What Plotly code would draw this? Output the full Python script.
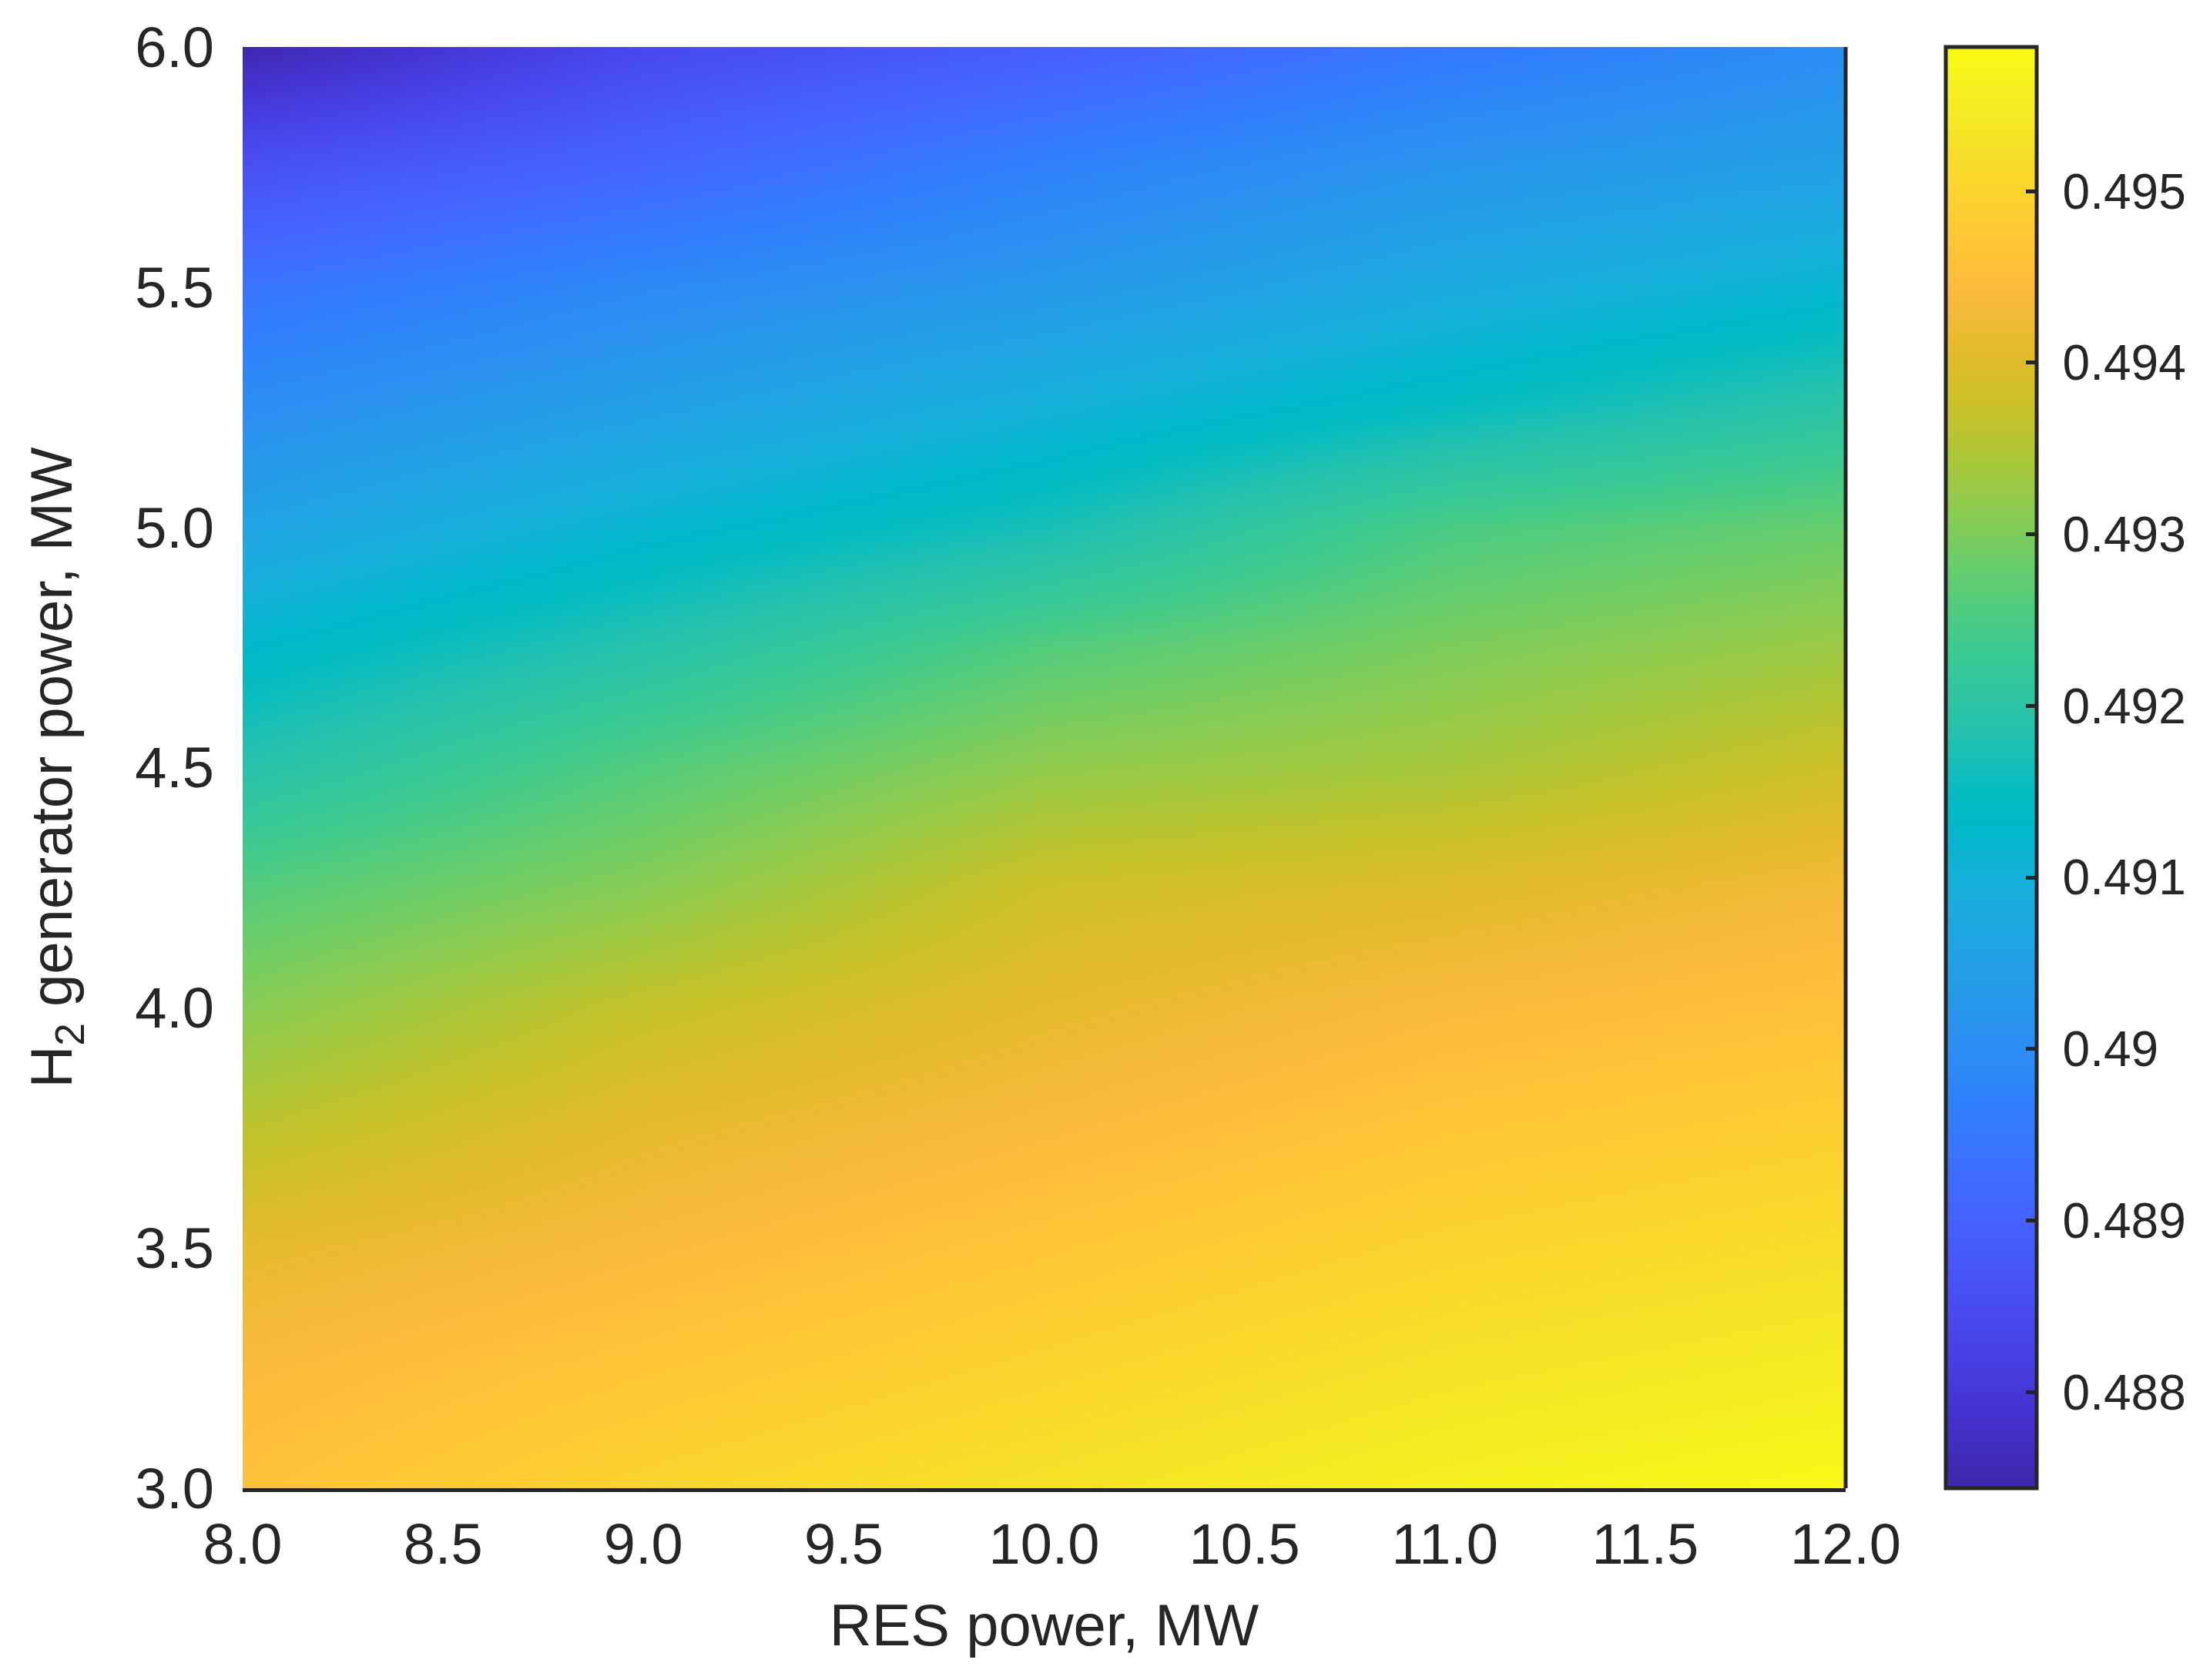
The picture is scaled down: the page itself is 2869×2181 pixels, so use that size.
import plotly.graph_objects as go

# RES power (x), H2 generator power (y), MW
res_power = [8.0, 9.0, 10.0, 11.0, 12.0]
h2_power = [3.0, 3.25, 3.5, 3.75, 4.0, 4.25, 4.5, 4.75, 5.0, 5.25, 5.5, 5.75, 6.0]

# one row per h2_power value, one column per res_power value
z_values = [
    [0.4946, 0.4950, 0.4953, 0.4956, 0.4958],
    [0.4944, 0.4947, 0.4950, 0.4953, 0.4955],
    [0.4941, 0.4944, 0.4947, 0.4950, 0.4952],
    [0.4936, 0.4941, 0.4944, 0.4947, 0.4949],
    [0.4931, 0.4937, 0.4941, 0.4944, 0.4946],
    [0.4926, 0.4931, 0.4938, 0.4940, 0.4943],
    [0.4919, 0.4926, 0.4932, 0.4934, 0.4938],
    [0.4913, 0.4919, 0.4926, 0.4930, 0.4933],
    [0.4906, 0.4912, 0.4917, 0.4925, 0.4928],
    [0.4900, 0.4905, 0.4910, 0.4915, 0.4920],
    [0.4894, 0.4899, 0.4903, 0.4908, 0.4912],
    [0.4886, 0.4891, 0.4897, 0.4902, 0.4905],
    [0.4875, 0.4884, 0.4889, 0.4895, 0.4900],
]

z_min, z_max = 0.48744, 0.49584
cbar_ticks = [0.488, 0.489, 0.490, 0.491, 0.492, 0.493, 0.494, 0.495]
cbar_text = ["0.488", "0.489", "0.49", "0.491", "0.492", "0.493", "0.494", "0.495"]
x_ticks = [8.0, 8.5, 9.0, 9.5, 10.0, 10.5, 11.0, 11.5, 12.0]
y_ticks = [3.0, 3.5, 4.0, 4.5, 5.0, 5.5, 6.0]

# MATLAB parula (64 steps)
PARULA = [
    (0.2422, 0.1504, 0.6603), (0.2504, 0.1650, 0.7076), (0.2578, 0.1818, 0.7511),
    (0.2647, 0.1978, 0.7952), (0.2706, 0.2147, 0.8364), (0.2751, 0.2342, 0.8710),
    (0.2783, 0.2559, 0.8991), (0.2803, 0.2782, 0.9221), (0.2813, 0.3006, 0.9414),
    (0.2810, 0.3228, 0.9579), (0.2795, 0.3447, 0.9717), (0.2760, 0.3667, 0.9829),
    (0.2699, 0.3892, 0.9906), (0.2602, 0.4123, 0.9952), (0.2440, 0.4358, 0.9988),
    (0.2206, 0.4603, 0.9973), (0.1963, 0.4847, 0.9892), (0.1834, 0.5074, 0.9798),
    (0.1786, 0.5289, 0.9682), (0.1764, 0.5499, 0.9520), (0.1687, 0.5703, 0.9359),
    (0.1540, 0.5902, 0.9218), (0.1460, 0.6091, 0.9079), (0.1380, 0.6276, 0.8973),
    (0.1248, 0.6459, 0.8883), (0.1113, 0.6635, 0.8763), (0.0952, 0.6798, 0.8598),
    (0.0689, 0.6948, 0.8394), (0.0297, 0.7082, 0.8163), (0.0036, 0.7203, 0.7917),
    (0.0067, 0.7312, 0.7660), (0.0433, 0.7411, 0.7394), (0.0964, 0.7500, 0.7120),
    (0.1408, 0.7584, 0.6842), (0.1717, 0.7670, 0.6554), (0.1938, 0.7758, 0.6251),
    (0.2161, 0.7843, 0.5923), (0.2470, 0.7918, 0.5567), (0.2906, 0.7973, 0.5188),
    (0.3406, 0.8008, 0.4789), (0.3909, 0.8029, 0.4354), (0.4456, 0.8024, 0.3909),
    (0.5044, 0.7993, 0.3480), (0.5616, 0.7942, 0.3045), (0.6174, 0.7876, 0.2612),
    (0.6720, 0.7793, 0.2227), (0.7242, 0.7698, 0.1910), (0.7738, 0.7598, 0.1646),
    (0.8203, 0.7498, 0.1535), (0.8634, 0.7406, 0.1596), (0.9035, 0.7330, 0.1774),
    (0.9393, 0.7288, 0.2100), (0.9728, 0.7298, 0.2394), (0.9956, 0.7434, 0.2371),
    (0.9970, 0.7659, 0.2199), (0.9952, 0.7893, 0.2028), (0.9892, 0.8136, 0.1885),
    (0.9786, 0.8386, 0.1766), (0.9676, 0.8639, 0.1643), (0.9610, 0.8890, 0.1537),
    (0.9597, 0.9135, 0.1423), (0.9628, 0.9373, 0.1265), (0.9691, 0.9606, 0.1064),
    (0.9769, 0.9839, 0.0805),
]
parula = [
    [i / (len(PARULA) - 1), "rgb(%d,%d,%d)" % tuple(round(c * 255) for c in rgb)]
    for i, rgb in enumerate(PARULA)
]

TXT = "#262626"
FONT = "Liberation Sans, Arial, sans-serif"

fig = go.Figure()
fig.add_trace(go.Heatmap(
    x=res_power,
    y=h2_power,
    z=z_values,
    zmin=z_min,
    zmax=z_max,
    zsmooth="best",
    colorscale=parula,
    colorbar=dict(
        x=1.0624,
        xanchor="left",
        xpad=0,
        ypad=0,
        y=0.5,
        yanchor="middle",
        len=1,
        thickness=118,
        outlinewidth=5,
        outlinecolor=TXT,
        tickmode="array",
        tickvals=cbar_ticks,
        ticktext=["\u00a0" + t for t in cbar_text],
        ticks="inside",
        ticklen=16,
        tickwidth=5,
        tickcolor=TXT,
        tickfont=dict(family=FONT, size=64, color=TXT),
    ),
    hovertemplate="RES: %{x}<br>H2: %{y}<br>%{z:.4f}<extra></extra>",
))

# right-hand frame edge
fig.add_shape(type="line", xref="paper", yref="paper", x0=1, x1=1, y0=0, y1=1,
              line=dict(color=TXT, width=5))

# page body adds a few px, so trim the canvas to keep the plot where the reference has it
fig.update_layout(
    width=2861,
    height=2173,
    margin=dict(l=307, r=472, t=40, b=249),
    paper_bgcolor="white",
    plot_bgcolor="white",
    font=dict(family=FONT, color=TXT),
    xaxis=dict(
        range=[8, 12],
        tickvals=x_ticks,
        ticktext=["%.1f" % v for v in x_ticks],
        showline=True,
        linecolor=TXT,
        linewidth=5,
        ticks="",
        ticklabelstandoff=4,
        showgrid=False,
        zeroline=False,
        tickfont=dict(family=FONT, size=74, color=TXT),
        title=dict(text="RES power, MW", font=dict(family=FONT, size=76, color=TXT),
                   standoff=40),
    ),
    yaxis=dict(
        range=[3, 6],
        tickvals=y_ticks,
        ticktext=["%.1f" % v for v in y_ticks],
        ticklabeloverflow="allow",
        showline=False,
        ticks="",
        ticklabelstandoff=36,
        showgrid=False,
        zeroline=False,
        tickfont=dict(family=FONT, size=74, color=TXT),
        title=dict(text="H<sub>2</sub> generator power, MW",
                   font=dict(family=FONT, size=76, color=TXT), standoff=56),
    ),
)

fig.write_html("out.html")
